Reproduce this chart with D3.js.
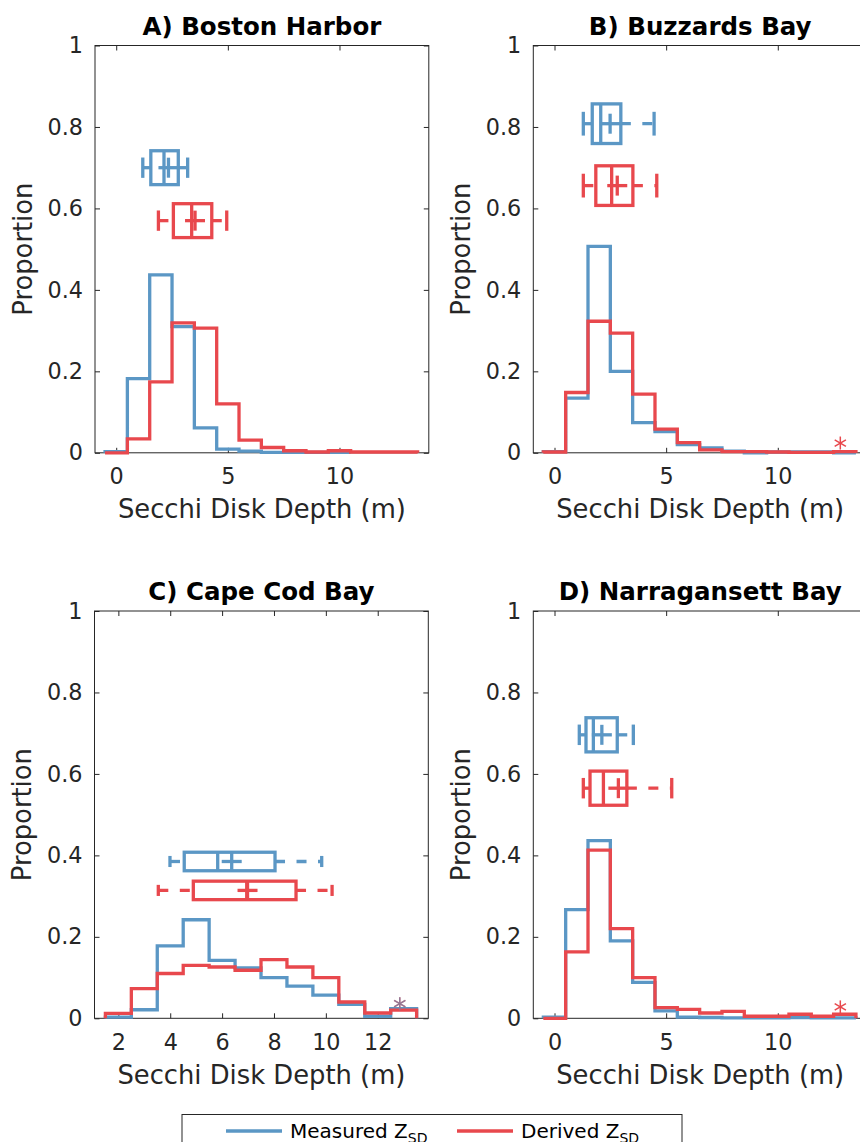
<!DOCTYPE html>
<html><head><meta charset="utf-8">
<script src="https://cdn.jsdelivr.net/npm/d3@7"></script>
<style>body{margin:0;background:#fff} svg{display:block}</style>
</head><body>
<svg id="c" width="860" height="1142"></svg>
<script>
// ---------------- DATA ----------------
const panelTitles = ["A) Boston Harbor", "B) Buzzards Bay", "C) Cape Cod Bay", "D) Narragansett Bay"];
const seriesNames = ["Measured Z", "Derived Z"];
const seriesSub = "SD";

// first bin centre (bins are 1 m wide) per panel
const binStart = [0, 0, 2, 0];

// histogram proportions
const measuredA = [0.003, 0.182, 0.437, 0.310, 0.061, 0.009, 0.004, 0.001, 0.001, 0.001, 0.001];
const derivedA  = [0.000, 0.034, 0.174, 0.319, 0.306, 0.120, 0.031, 0.013, 0.005, 0.002, 0.005, 0.002, 0.002, 0.002];
const measuredB = [0.003, 0.134, 0.507, 0.200, 0.074, 0.052, 0.020, 0.012, 0.004, 0.000, 0.002, 0.002, 0.002, 0.000];
const derivedB  = [0.002, 0.148, 0.323, 0.294, 0.144, 0.058, 0.025, 0.007, 0.003, 0.003, 0.002, 0.001, 0.001, 0.003];
const measuredC = [0.003, 0.021, 0.178, 0.242, 0.142, 0.124, 0.100, 0.079, 0.057, 0.034, 0.005, 0.024];
const derivedC  = [0.012, 0.073, 0.110, 0.130, 0.126, 0.118, 0.144, 0.126, 0.100, 0.040, 0.013, 0.020];
const measuredD = [0.003, 0.267, 0.436, 0.190, 0.088, 0.018, 0.003, 0.002, 0.001, 0.001, 0.001, 0.002, 0.001, 0.001];
const derivedD  = [0.000, 0.163, 0.413, 0.220, 0.100, 0.026, 0.022, 0.013, 0.017, 0.005, 0.005, 0.010, 0.005, 0.010];

// box plot stats: [lower whisker, q1, median, mean, q3, upper whisker]
const boxMeasuredA = [1.19, 1.55, 2.14, 2.34, 2.78, 3.20];
const boxDerivedA  = [1.89, 2.56, 3.38, 3.53, 4.28, 4.95];
const boxMeasuredB = [1.29, 1.69, 2.07, 2.49, 2.97, 4.46];
const boxDerivedB  = [1.29, 1.85, 2.56, 2.81, 3.51, 4.58];
const boxMeasuredC = [3.99, 4.54, 5.83, 6.37, 8.04, 9.84];
const boxDerivedC  = [3.54, 4.89, 6.95, 6.98, 8.85, 10.24];
const boxMeasuredD = [1.11, 1.41, 1.74, 2.12, 2.81, 3.53];
const boxDerivedD  = [1.29, 1.59, 2.19, 2.86, 3.24, 5.25];
// vertical positions (proportion axis) of the box plots [measured, derived]
const boxPosA = [0.700, 0.570];
const boxPosB = [0.808, 0.656];
const boxPosC = [0.385, 0.314];
const boxPosD = [0.696, 0.565];

// asterisk markers [x, y, series index]
const asterB = [[12.8, 0.024, 1]];
const asterC = [[12.85, 0.036, 1], [12.85, 0.036, 0]];
const asterD = [[12.8, 0.028, 1]];

// axes
const xDomainMain = [-0.95, 14];
const xDomainC = [1.08, 13.95];
const xTicksMain = [0, 5, 10];
const xTicksC = [2, 4, 6, 8, 10, 12];
const yTicks = [0, 0.2, 0.4, 0.6, 0.8, 1];
const yLabels = ["0", "0.2", "0.4", "0.6", "0.8", "1"];
const xLabel = "Secchi Disk Depth (m)";
const yLabel = "Proportion";

// ---------------- DRAW ----------------
const colors = ["#5b97c5", "#e8484d"];
const FONT = "DejaVu Sans";
const svg = d3.select("#c");
svg.append("rect").attr("width", 860).attr("height", 1142).attr("fill", "#fff");

const panels = [
  {meas: measuredA, der: derivedA, bm: boxMeasuredA, bd: boxDerivedA, pos: boxPosA, ast: [], xd: xDomainMain, xt: xTicksMain, x0: 95, y0: 45.5},
  {meas: measuredB, der: derivedB, bm: boxMeasuredB, bd: boxDerivedB, pos: boxPosB, ast: asterB, xd: xDomainMain, xt: xTicksMain, x0: 533.3, y0: 45.5},
  {meas: measuredC, der: derivedC, bm: boxMeasuredC, bd: boxDerivedC, pos: boxPosC, ast: asterC, xd: xDomainC, xt: xTicksC, x0: 94.5, y0: 611},
  {meas: measuredD, der: derivedD, bm: boxMeasuredD, bd: boxDerivedD, pos: boxPosD, ast: asterD, xd: xDomainMain, xt: xTicksMain, x0: 533.3, y0: 611},
];
const PW = 333.8, PH = 407.3;
const axisColor = "#262626";
const LW = 3.3;

panels.forEach((p, i) => {
  const g = svg.append("g").attr("transform", `translate(${p.x0},${p.y0})`);
  const x = d3.scaleLinear().domain(p.xd).range([0, PW]);
  const y = d3.scaleLinear().domain([0, 1]).range([PH, 0]);

  // axes
  const fmtY = (d) => yLabels[yTicks.indexOf(d)];
  const axB = g.append("g").attr("transform", `translate(0,${PH})`)
    .call(d3.axisBottom(x).tickValues(p.xt).tickSizeInner(-5).tickSizeOuter(0).tickPadding(15.5).tickFormat(d3.format("d")));
  const axT = g.append("g")
    .call(d3.axisTop(x).tickValues(p.xt).tickSizeInner(-5).tickSizeOuter(0).tickFormat(""));
  const axL = g.append("g")
    .call(d3.axisLeft(y).tickValues(yTicks).tickSizeInner(-5).tickSizeOuter(0).tickPadding(12).tickFormat(fmtY));
  const axR = g.append("g").attr("transform", `translate(${PW},0)`)
    .call(d3.axisRight(y).tickValues(yTicks).tickSizeInner(-5).tickSizeOuter(0).tickFormat(""));
  [axB, axT, axL, axR].forEach(a => {
    a.select(".domain").remove();
    a.selectAll("line").attr("stroke", axisColor);
    a.selectAll("text").attr("fill", axisColor).style("font-family", FONT).style("font-size", "22.3px");
  });
  g.append("rect").attr("x", 0).attr("y", 0).attr("width", PW).attr("height", PH)
    .attr("fill", "none").attr("stroke", axisColor).attr("stroke-width", 1);

  // labels
  g.append("text").attr("x", PW / 2).attr("y", PH + 65.5).attr("text-anchor", "middle")
    .style("font-family", FONT).style("font-size", "25.8px").attr("fill", axisColor).text(xLabel);
  g.append("text").attr("transform", `translate(-63.5,${PH / 2}) rotate(-90)`).attr("text-anchor", "middle")
    .style("font-family", FONT).style("font-size", "25.8px").attr("fill", axisColor).text(yLabel);
  g.append("text").attr("x", PW / 2).attr("y", -11).attr("text-anchor", "middle")
    .style("font-family", FONT).style("font-size", "24.5px").style("font-weight", "bold").attr("fill", "#000").text(panelTitles[i]);

  // histograms (stairs outline)
  const plotG = g.append("g");
  [p.meas, p.der].forEach((vals, si) => {
    const start = binStart[i];
    const pts = [[start - 0.5, 0]];
    vals.forEach((v, k) => {
      pts.push([start + k - 0.5, v]);
      pts.push([start + k + 0.5, v]);
    });
    pts.push([start + vals.length - 0.5, 0]);
    const line = d3.line().x(d => x(d[0])).y(d => y(d[1]));
    plotG.append("path").attr("d", line(pts)).attr("fill", "none")
      .attr("stroke", colors[si]).attr("stroke-width", LW).attr("stroke-linejoin", "miter");
  });

  // box plots
  const spacing = Math.abs(p.pos[0] - p.pos[1]);
  const bh = Math.abs(y(0) - y(spacing * 0.64));
  [p.bm, p.bd].forEach((s, si) => {
    const cy = y(p.pos[si]);
    const c = colors[si];
    const bg = plotG.append("g").attr("stroke", c).attr("stroke-width", LW).attr("fill", "none");
    const [lo, q1, med, mean, q3, hi] = s;
    // whiskers (dashed)
    bg.append("line").attr("x1", x(lo)).attr("x2", x(q1)).attr("y1", cy).attr("y2", cy).attr("stroke-dasharray", "10,11.5");
    bg.append("line").attr("x1", x(q3)).attr("x2", x(hi)).attr("y1", cy).attr("y2", cy).attr("stroke-dasharray", "10,11.5");
    // caps
    [lo, hi].forEach(v => bg.append("line").attr("x1", x(v)).attr("x2", x(v))
      .attr("y1", cy - bh * 0.3).attr("y2", cy + bh * 0.3));
    // box
    bg.append("rect").attr("x", x(q1)).attr("y", cy - bh / 2).attr("width", x(q3) - x(q1)).attr("height", bh);
    // median
    bg.append("line").attr("x1", x(med)).attr("x2", x(med)).attr("y1", cy - bh / 2).attr("y2", cy + bh / 2);
    // mean '+'
    bg.append("line").attr("x1", x(mean) - 10).attr("x2", x(mean) + 10).attr("y1", cy).attr("y2", cy);
    bg.append("line").attr("x1", x(mean)).attr("x2", x(mean)).attr("y1", cy - 10).attr("y2", cy + 10);
  });

  // asterisks
  p.ast.forEach(a => {
    const ax = x(a[0]), ay = y(a[1]);
    const r = 6.5;
    const ag = plotG.append("g").attr("stroke", colors[a[2]]).attr("stroke-width", 1.5)
      .attr("opacity", a[2] === 0 ? 0.6 : 1);
    [90, 30, -30].forEach(ang => {
      const rad = ang * Math.PI / 180;
      ag.append("line").attr("x1", ax - r * Math.cos(rad)).attr("y1", ay - r * Math.sin(rad))
        .attr("x2", ax + r * Math.cos(rad)).attr("y2", ay + r * Math.sin(rad));
    });
  });
});

// legend
const lg = svg.append("g");
lg.append("rect").attr("x", 182).attr("y", 1114.5).attr("width", 500).attr("height", 40)
  .attr("fill", "#fff").attr("stroke", axisColor).attr("stroke-width", 1);
const legX = [226, 457];
seriesNames.forEach((nm, si) => {
  lg.append("line").attr("x1", legX[si]).attr("x2", legX[si] + 56).attr("y1", 1131).attr("y2", 1131)
    .attr("stroke", colors[si]).attr("stroke-width", LW);
  const t = lg.append("text").attr("x", legX[si] + 64).attr("y", 1138)
    .style("font-family", FONT).style("font-size", "20px").attr("fill", "#000");
  t.append("tspan").text(nm);
  t.append("tspan").attr("dy", 5).style("font-size", "14px").text(seriesSub);
});
</script>
</body></html>
